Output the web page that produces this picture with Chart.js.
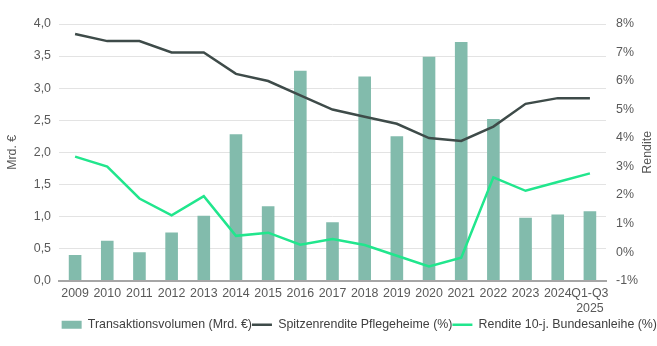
<!DOCTYPE html>
<html>
<head>
<meta charset="utf-8">
<script src="https://cdn.jsdelivr.net/npm/chart.js@4"></script>
<style>
  html, body { margin: 0; padding: 0; background: #fff; }
  #box { width: 657px; height: 346px; }
</style>
</head>
<body>
<div id="box"><canvas id="chart"></canvas></div>
<script>
// Jahre / Kategorien
const jahre = ['2009', '2010', '2011', '2012', '2013', '2014', '2015', '2016', '2017',
  '2018', '2019', '2020', '2021', '2022', '2023', '2024', ['Q1-Q3', '2025']];

// Transaktionsvolumen in Mrd. €
const volumen = [0.40, 0.62, 0.44, 0.75, 1.01, 2.28, 1.16, 3.27, 0.91,
  3.18, 2.25, 3.49, 3.72, 2.52, 0.98, 1.03, 1.08];

// Spitzenrendite Pflegeheime in %
const spitzenrendite = [7.65, 7.4, 7.4, 7.0, 7.0, 6.25, 6.0, 5.5, 5.0,
  4.75, 4.5, 4.0, 3.9, 4.4, 5.2, 5.4, 5.4];

// Rendite 10-j. Bundesanleihe in %
const bundesanleihe = [3.35, 3.0, 1.88, 1.29, 1.96, 0.57, 0.68, 0.26, 0.46,
  0.25, -0.13, -0.5, -0.2, 2.62, 2.15, 2.46, 2.76];

const schrift = { family: '"Liberation Sans", Arial, sans-serif', size: 12.4 };
const grau = '#595959';

// rechter Achsentitel, von unten nach oben gelesen
const rechterTitel = {
  id: 'rechterTitel',
  afterDraw(c) {
    const s = c.scales.y1;
    const g = c.ctx;
    g.save();
    g.translate(648, (s.top + s.bottom) / 2);
    g.rotate(-Math.PI / 2);
    g.font = '12.4px "Liberation Sans", Arial, sans-serif';
    g.fillStyle = grau;
    g.textAlign = 'center';
    g.textBaseline = 'middle';
    g.fillText('Rendite', 0, 0);
    g.restore();
  }
};

const ctx = document.getElementById('chart').getContext('2d');
const chart = new Chart(ctx, {
  type: 'bar',
  data: {
    labels: jahre,
    datasets: [
      {
        label: 'Transaktionsvolumen (Mrd. €)',
        data: volumen,
        backgroundColor: '#82bbac',
        borderWidth: 0,
        barPercentage: 0.8,
        categoryPercentage: 0.49,
        yAxisID: 'y',
        order: 3
      },
      {
        type: 'line',
        label: 'Spitzenrendite Pflegeheime (%)',
        data: spitzenrendite,
        borderColor: '#3e4b49',
        backgroundColor: '#3e4b49',
        borderWidth: 2.5,
        pointRadius: 0,
        tension: 0,
        yAxisID: 'y1',
        order: 1
      },
      {
        type: 'line',
        label: 'Rendite 10-j. Bundesanleihe (%)',
        data: bundesanleihe,
        borderColor: '#21e68d',
        backgroundColor: '#21e68d',
        borderWidth: 2.5,
        pointRadius: 0,
        tension: 0,
        yAxisID: 'y1',
        order: 2
      }
    ]
  },
  options: {
    responsive: true,
    maintainAspectRatio: false,
    animation: false,
    layout: { padding: { top: 24, left: 0, right: 0, bottom: 5 } },
    plugins: {
      tooltip: { enabled: false },
      legend: {
        position: 'bottom',
        align: 'end',
        labels: {
          font: schrift,
          color: '#404040',
          usePointStyle: true,
          pointStyleWidth: 20,
          boxHeight: 8,
          padding: 0,
          sort: (a, b) => a.datasetIndex - b.datasetIndex,
          generateLabels: function (c) {
            const items = Chart.defaults.plugins.legend.labels.generateLabels(c);
            items.forEach(it => {
              it.pointStyle = it.datasetIndex === 0 ? 'rect' : 'line';
              it.lineWidth = it.datasetIndex === 0 ? 0 : 2.5;
            });
            return items;
          }
        }
      }
    },
    scales: {
      x: {
        grid: { display: false, drawTicks: false },
        border: { color: '#a6a6a6', width: 2 },
        ticks: { font: schrift, color: grau, padding: 6, maxRotation: 0, autoSkip: false },
        afterFit: s => { s.height = 38; }
      },
      y: {
        position: 'left',
        min: 0,
        max: 4,
        ticks: {
          stepSize: 0.5,
          font: schrift,
          color: grau,
          padding: 8,
          callback: v => v.toFixed(1).replace('.', ',')
        },
        grid: { color: '#e3e3e3', lineWidth: 1, drawTicks: false },
        border: { display: false },
        title: { display: true, text: 'Mrd. €', font: schrift, color: grau, padding: { top: 5, bottom: 0 } },
        afterFit: s => { s.width = 59; }
      },
      y1: {
        position: 'right',
        min: -1,
        max: 8,
        ticks: {
          stepSize: 1,
          font: schrift,
          color: grau,
          padding: 10,
          callback: v => v + '%'
        },
        grid: { display: false, drawTicks: false },
        border: { display: false },
        afterFit: s => { s.width = 51; }
      }
    }
  },
  plugins: [rechterTitel]
});
</script>
</body>
</html>
